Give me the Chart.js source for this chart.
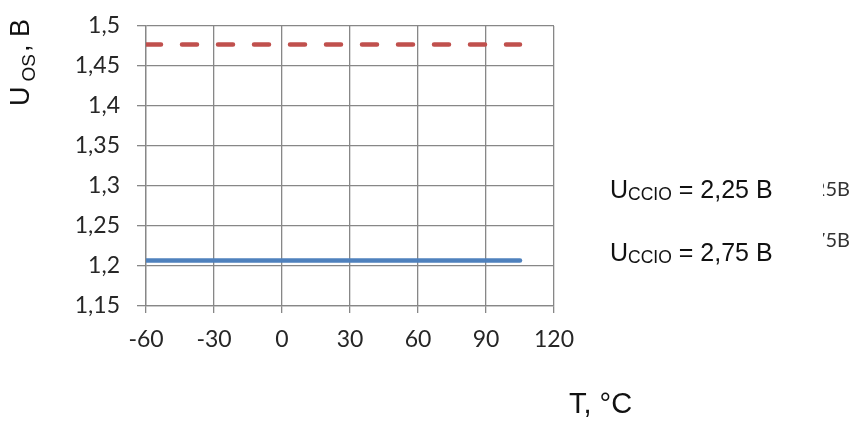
<!DOCTYPE html>
<html lang="ru">
<head>
    <meta charset="UTF-8">
    <title>U_OS vs T</title>
    <script src="https://cdn.jsdelivr.net/npm/chart.js"></script>
    <style>
        html, body {
            margin: 0;
            padding: 0;
            background: #fff;
        }
        #wrap {
            position: relative;
            width: 855px;
            height: 421px;
            font-family: 'Liberation Sans', Arial, sans-serif;
            color: #111;
        }
        #wrap canvas {
            position: absolute;
            left: 0;
            top: 0;
        }
        .lbl {
            position: absolute;
            white-space: nowrap;
        }
        .lbl sub {
            font-size: 0.7em;
            vertical-align: baseline;
            position: relative;
            top: 0.12em;
        }
        .legend {
            font-size: 25px;
            line-height: 25px;
        }
        .stub {
            position: absolute;
            left: 823px;
            width: 32px;
            height: 30px;
            overflow: hidden;
            font-family: 'Lato', sans-serif;
            font-size: 20px;
            color: #333;
        }
        .stub span {
            position: absolute;
            right: 5px;
            top: 1px;
            white-space: nowrap;
        }
    </style>
</head>
<body>
<div id="wrap">
    <canvas id="chart" width="855" height="421"></canvas>

    <div class="lbl" style="left:5px; top:106px; font-size:27px; line-height:30px; transform-origin:left top; transform:rotate(-90deg);">U<sub style="font-size:19px; top:0.3em; margin-left:5px; margin-right:2px;">OS</sub>, B</div>
    <div class="lbl" style="left:569px; top:388px; font-size:29px; line-height:31px;">T, °C</div>

    <div class="lbl legend" style="left:610px; top:177px;">U<sub>CCIO</sub> = 2,25 B</div>
    <div class="lbl legend" style="left:610px; top:240px;">U<sub>CCIO</sub> = 2,75 B</div>
    <div class="stub" style="top:175px;"><span>2,25B</span></div>
    <div class="stub" style="top:226px;"><span>2,75B</span></div>
</div>

<script>
    // temperatures, °C
    const temps = [-60, -40, -20, 0, 25, 50, 85, 105];
    // offset voltage, B
    const uos225 = [1.477, 1.477, 1.477, 1.477, 1.477, 1.477, 1.477, 1.477];
    const uos275 = [1.207, 1.207, 1.207, 1.207, 1.207, 1.207, 1.207, 1.207];

    const xTickLabels = ['-60', '-30', '0', '30', '60', '90', '120'];
    const yTickLabels = ['1,15', '1,2', '1,25', '1,3', '1,35', '1,4', '1,45', '1,5'];

    const gridColor = '#878787';

    function pts(ys) {
        return temps.map((t, i) => ({ x: t, y: ys[i] }));
    }

    new Chart(document.getElementById('chart').getContext('2d'), {
        type: 'scatter',
        data: {
            datasets: [{
                label: 'Uccio = 2,25 B',
                data: pts(uos225),
                showLine: true,
                borderColor: '#C0504D',
                borderWidth: 4.5,
                borderCapStyle: 'round',
                borderDash: [15, 21],
                pointRadius: 0,
                fill: false
            }, {
                label: 'Uccio = 2,75 B',
                data: pts(uos275),
                showLine: true,
                borderColor: '#4F81BD',
                borderWidth: 4.5,
                borderCapStyle: 'round',
                pointRadius: 0,
                fill: false
            }]
        },
        options: {
            responsive: false,
            animation: false,
            events: [],
            layout: {
                padding: { left: 0, top: 26, right: 301, bottom: 0 }
            },
            plugins: {
                legend: { display: false },
                tooltip: { enabled: false }
            },
            scales: {
                x: {
                    type: 'linear',
                    min: -60,
                    max: 120,
                    afterFit: s => { s.height = 115; s.paddingLeft = 0; s.paddingRight = 0; },
                    ticks: {
                        stepSize: 30,
                        padding: 13,
                        color: '#262626',
                        font: { family: 'Lato', size: 23 },
                        callback: (v, i) => xTickLabels[i]
                    },
                    grid: { color: gridColor, lineWidth: 1.3, tickLength: 7, tickColor: gridColor },
                    border: { color: gridColor, width: 1.3 }
                },
                y: {
                    min: 1.15,
                    max: 1.5,
                    afterFit: s => { s.width = 146; s.paddingTop = 0; s.paddingBottom = 0; },
                    ticks: {
                        stepSize: 0.05,
                        padding: 17,
                        color: '#262626',
                        font: { family: 'Lato', size: 23 },
                        callback: (v, i) => yTickLabels[i]
                    },
                    grid: { color: gridColor, lineWidth: 1.3, tickLength: 9, tickColor: gridColor },
                    border: { color: gridColor, width: 1.3 }
                }
            }
        }
    });
</script>
</body>
</html>
